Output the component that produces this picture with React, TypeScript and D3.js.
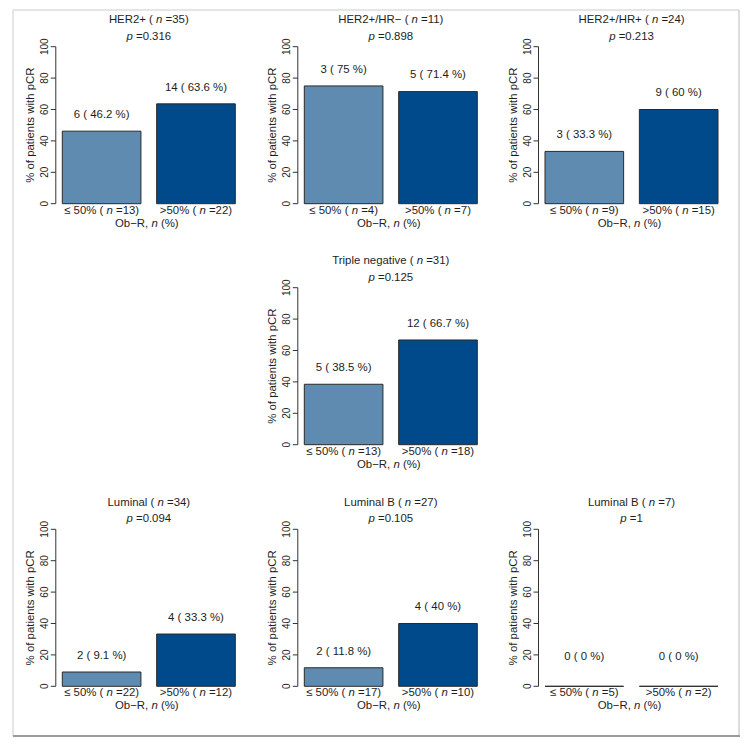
import React from "react";
import * as d3 from "d3";

// ---------- data ----------
const panelTitles = ["HER2+", "HER2+/HR−", "HER2+/HR+", "Triple negative", "Luminal", "Luminal B", "Luminal B"];
const panelN = [35, 11, 24, 31, 34, 27, 7];
const pValues = ["0.316", "0.898", "0.213", "0.125", "0.094", "0.105", "1"];
const groups = ["≤ 50%", ">50%"];
const groupN = [[13, 22], [4, 7], [9, 15], [13, 18], [22, 12], [17, 10], [5, 2]];
const pcrCount = [[6, 14], [3, 5], [3, 9], [5, 12], [2, 4], [2, 4], [0, 0]];
const pcrPct = [[46.2, 63.6], [75, 71.4], [33.3, 60], [38.5, 66.7], [9.1, 33.3], [11.8, 40], [0, 0]];
const yTicks = [0, 20, 40, 60, 80, 100];
const yTitle = "% of patients with pCR";
const xTitle = "Ob−R,";

// ---------- layout (not data) ----------
const W = 748;
const H = 746;
const cells = [[0, 0], [0, 1], [0, 2], [1, 1], [2, 0], [2, 1], [2, 2]];
const colBarLeft = [62.3, 304.3, 545];
const rowTop = [46.7, 287.7, 529.3];
const barsW = 173;
const plotH = 157;
const colors = ["#5E8BAF", "#004A8C"];
const FONT = "'Liberation Sans', Arial, Helvetica, sans-serif";
const TXT = "#1e1e1e";

function Panel({ i }: { i: number }) {
  const [r, c] = cells[i];
  const left = colBarLeft[c];
  const top = rowTop[r];
  const y = d3.scaleLinear().domain([0, 100]).range([top + plotH, top]);
  const x = d3
    .scaleBand<string>()
    .domain(groups)
    .range([left, left + barsW])
    .paddingInner(0.2 / 1.2)
    .paddingOuter(0);
  const axisX = left - 6.5;
  const cx = left + barsW / 2;
  const y0 = y(0);

  return (
    <g>
      {/* title */}
      <text x={cx} y={top - 23.5} textAnchor="middle" fontSize={11.4} fill={TXT}>
        {panelTitles[i]} ( <tspan fontStyle="italic">n</tspan> ={panelN[i]})
      </text>
      <text x={cx} y={top - 7} textAnchor="middle" fontSize={11.4} fill={TXT}>
        <tspan fontStyle="italic">p</tspan> ={pValues[i]}
      </text>

      {/* y axis */}
      <line x1={axisX} x2={axisX} y1={y(0)} y2={y(100)} stroke="#333" strokeWidth={1} />
      {yTicks.map((t) => (
        <g key={t}>
          <line x1={axisX - 5} x2={axisX} y1={y(t)} y2={y(t)} stroke="#333" strokeWidth={1} />
          <text
            transform={`translate(${axisX - 8},${y(t)}) rotate(-90)`}
            textAnchor="middle"
            fontSize={10}
            fill={TXT}
          >
            {t}
          </text>
        </g>
      ))}
      <text
        transform={`translate(${axisX - 22},${(y(0) + y(100)) / 2}) rotate(-90)`}
        textAnchor="middle"
        fontSize={11.4}
        fill={TXT}
      >
        {yTitle}
      </text>

      {/* bars */}
      {groups.map((g, j) => {
        const bx = x(g) as number;
        const bw = x.bandwidth();
        const v = pcrPct[i][j];
        const yt = y(v);
        const labelV = Math.max(v + 11, 19);
        return (
          <g key={g}>
            <path
              d={`M${bx},${y0}H${bx + bw}V${yt}H${bx}Z`}
              fill={colors[j]}
              stroke="#2a2a2a"
              strokeWidth={1}
            />
            <text x={bx + bw / 2} y={y(labelV) + 4} textAnchor="middle" fontSize={11.4} fill={TXT}>
              {pcrCount[i][j]} ( {v} %)
            </text>
            <text x={bx + bw / 2} y={y0 + 10} textAnchor="middle" fontSize={11.4} fill={TXT}>
              {g} ( <tspan fontStyle="italic">n</tspan> ={groupN[i][j]})
            </text>
          </g>
        );
      })}
      <text x={cx - 2} y={y0 + 23} textAnchor="middle" fontSize={11.4} fill={TXT}>
        {xTitle} <tspan fontStyle="italic">n</tspan> (%)
      </text>
    </g>
  );
}

export default function App() {
  return (
    <svg
      width={W}
      height={H}
      style={{ position: "absolute", left: 0, top: 0, display: "block", background: "#fff" }}
      fontFamily={FONT}
    >
      <rect x={0} y={0} width={W} height={H} fill="#fff" />
      <line x1={13} x2={739} y1={10} y2={10} stroke="#dcdcdc" strokeWidth={1.5} />
      <line x1={13} x2={13} y1={10} y2={736} stroke="#dcdcdc" strokeWidth={1.5} />
      <line x1={739} x2={739} y1={10} y2={736} stroke="#d0d0d0" strokeWidth={1.5} />
      <line x1={13} x2={740} y1={736} y2={736} stroke="#9a9a9a" strokeWidth={2} />
      {panelTitles.map((_, i) => (
        <Panel key={i} i={i} />
      ))}
    </svg>
  );
}
